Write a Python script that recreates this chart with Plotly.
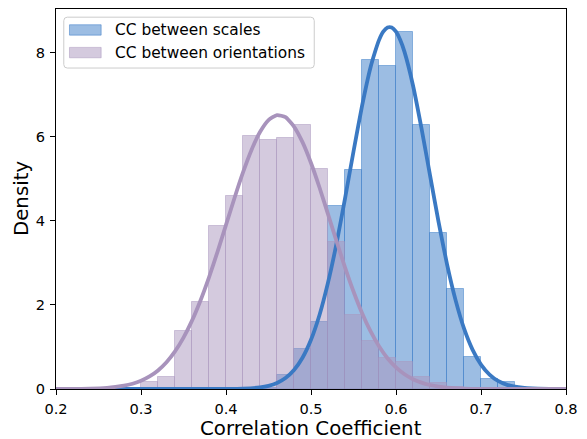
import plotly.graph_objects as go

# ---------------- data ----------------
bin_width = 0.02

scales_bin_left = [0.44, 0.46, 0.48, 0.50, 0.52, 0.54, 0.56, 0.58, 0.60, 0.62,
                   0.64, 0.66, 0.68, 0.70, 0.72, 0.74]
scales_density = [0.03, 0.34, 0.94, 1.59, 4.35, 5.20, 7.82, 7.68, 8.50, 6.27,
                  3.72, 2.39, 0.75, 0.24, 0.17, 0.03]

orient_bin_left = [0.30, 0.32, 0.34, 0.36, 0.38, 0.40, 0.42, 0.44, 0.46, 0.48,
                   0.50, 0.52, 0.54, 0.56, 0.58, 0.60, 0.62, 0.64, 0.66]
orient_density = [0.16, 0.29, 1.38, 2.08, 3.87, 4.58, 6.01, 5.92, 5.96, 6.27,
                  5.23, 3.50, 1.76, 1.15, 0.73, 0.65, 0.29, 0.15, 0.05]

scales_curve_x = [0.20, 0.40, 0.42, 0.44, 0.45, 0.46, 0.47, 0.48, 0.49, 0.50,
                  0.51, 0.52, 0.53, 0.54, 0.55, 0.56, 0.57, 0.575, 0.58, 0.585,
                  0.59, 0.595, 0.60, 0.605, 0.61, 0.62, 0.63, 0.64, 0.65, 0.66,
                  0.67, 0.68, 0.69, 0.70, 0.71, 0.72, 0.73, 0.74, 0.76, 0.78, 0.80]
scales_curve_y = [0.0, 0.0015, 0.008, 0.038, 0.075, 0.143, 0.260, 0.450, 0.742, 1.17,
                  1.76, 2.53, 3.46, 4.53, 5.65, 6.73, 7.65, 8.00, 8.30, 8.50,
                  8.60, 8.60, 8.50, 8.30, 8.02, 7.22, 6.20, 5.09, 3.98, 2.97,
                  2.12, 1.44, 0.937, 0.581, 0.344, 0.194, 0.105, 0.054, 0.012, 0.0024, 0.0004]

orient_curve_x = [0.20, 0.22, 0.24, 0.26, 0.27, 0.28, 0.29, 0.30, 0.31, 0.32,
                  0.33, 0.34, 0.35, 0.36, 0.37, 0.38, 0.39, 0.40, 0.41, 0.42,
                  0.43, 0.44, 0.45, 0.46, 0.47, 0.48, 0.49, 0.50, 0.51, 0.52,
                  0.53, 0.54, 0.55, 0.56, 0.57, 0.58, 0.59, 0.60, 0.61, 0.62,
                  0.63, 0.64, 0.65, 0.66, 0.68, 0.70, 0.72, 0.80]
orient_curve_y = [0.0007, 0.0026, 0.009, 0.028, 0.048, 0.078, 0.126, 0.196, 0.298, 0.442,
                  0.637, 0.894, 1.222, 1.626, 2.107, 2.657, 3.264, 3.903, 4.545, 5.152,
                  5.687, 6.112, 6.396, 6.517, 6.465, 6.244, 5.872, 5.377, 4.794, 4.161,
                  3.517, 2.894, 2.319, 1.809, 1.374, 1.016, 0.731, 0.513, 0.350, 0.233,
                  0.151, 0.095, 0.058, 0.035, 0.011, 0.003, 0.0009, 0.0]

legend_labels = ["CC between scales", "CC between orientations"]
x_ticks = [0.2, 0.3, 0.4, 0.5, 0.6, 0.7, 0.8]
y_ticks = [0, 2, 4, 6, 8]
x_title = "Correlation Coefficient"
y_title = "Density"

# ---------------- styling ----------------
BLUE = (58, 123, 200)
PURPLE = (169, 149, 189)
BLUE_LINE = "#3a79c3"
PURPLE_LINE = "#a893bc"


def rgba(c, a):
    return "rgba(%d,%d,%d,%s)" % (c[0], c[1], c[2], a)


W, H = 587, 439
ML, MR, MT, MB = 55.5, 21, 8.5, 49.5
PW, PH = W - ML - MR, H - MT - MB
FONT = "DejaVu Sans"


def px(xp):
    return (xp - ML) / PW


def py(yp):
    return (H - MB - yp) / PH


fig = go.Figure()

fig.add_trace(go.Bar(
    x=[b + bin_width / 2 for b in scales_bin_left], y=scales_density,
    width=bin_width, marker=dict(color=rgba(BLUE, 0.5),
                                 line=dict(color=rgba(BLUE, 0.5), width=1)),
    name=legend_labels[0], showlegend=False))
fig.add_trace(go.Bar(
    x=[b + bin_width / 2 for b in orient_bin_left], y=orient_density,
    width=bin_width, marker=dict(color=rgba(PURPLE, 0.5),
                                 line=dict(color=rgba(PURPLE, 0.5), width=1)),
    name=legend_labels[1], showlegend=False))
fig.add_trace(go.Scatter(
    x=scales_curve_x, y=scales_curve_y, mode="lines",
    line=dict(color=BLUE_LINE, width=3.8, shape="spline", smoothing=0.5),
    showlegend=False, cliponaxis=True))
fig.add_trace(go.Scatter(
    x=orient_curve_x, y=orient_curve_y, mode="lines",
    line=dict(color=PURPLE_LINE, width=3.8, shape="spline", smoothing=0.5),
    showlegend=False, cliponaxis=True))

# ---------------- manual legend (matplotlib style) ----------------
lx0, lx1, ly0, ly1, r = 63.3, 314.0, 16.7, 67.7, 3.5
path = ("M {a},{b} L {c},{b} Q {d},{b} {d},{e} L {d},{f} Q {d},{g} {c},{g} "
        "L {a},{g} Q {h},{g} {h},{f} L {h},{e} Q {h},{b} {a},{b} Z").format(
    a=px(lx0 + r), b=py(ly0), c=px(lx1 - r), d=px(lx1), e=py(ly0 + r),
    f=py(ly1 - r), g=py(ly1), h=px(lx0))
shapes = [dict(type="path", path=path, xref="paper", yref="paper",
               line=dict(color="#cccccc", width=1),
               fillcolor="rgba(255,255,255,0.8)", layer="above")]
annotations = []
entries = [(BLUE, 29.5), (PURPLE, 52.2)]
for (col, yc), label in zip(entries, legend_labels):
    shapes.append(dict(type="rect", xref="paper", yref="paper",
                       x0=px(69.0), x1=px(100.7), y0=py(yc - 5.2), y1=py(yc + 5.2),
                       fillcolor=rgba(col, 0.5), line=dict(color=rgba(col, 0.5), width=1),
                       layer="above"))
    annotations.append(dict(x=px(112.5), y=py(yc), xref="paper", yref="paper",
                            text=label, showarrow=False, xanchor="left",
                            yanchor="middle", font=dict(family=FONT, size=15.4,
                                                        color="black")))

# axis titles as annotations, placed like the reference
annotations.append(dict(x=px(311.0), y=py(429.5), xref="paper", yref="paper",
                        text=x_title, showarrow=False, xanchor="center",
                        yanchor="middle", font=dict(family=FONT, size=19.8, color="black")))
annotations.append(dict(x=px(20.5), y=py(199.0), xref="paper", yref="paper",
                        text=y_title, showarrow=False, xanchor="center", textangle=-90,
                        yanchor="middle", font=dict(family=FONT, size=19.8, color="black")))

axis_common = dict(showline=True, linecolor="black", linewidth=1.1, mirror=True,
                   ticks="outside", ticklen=5, tickwidth=1.1, tickcolor="black",
                   showgrid=False, zeroline=False, automargin=False,
                   tickfont=dict(family=FONT, size=14.6, color="black"))

fig.update_layout(
    width=W, height=H, margin=dict(l=ML, r=MR, t=MT, b=MB, pad=0, autoexpand=False),
    paper_bgcolor="white", plot_bgcolor="white", barmode="overlay",
    bargap=0, showlegend=False,
    xaxis=dict(range=[0.2, 0.8], tickvals=x_ticks,
               ticktext=["%.1f" % v for v in x_ticks], ticklabelstandoff=1,
               **axis_common),
    yaxis=dict(range=[0, 9.04], tickvals=y_ticks,
               ticktext=[str(v) for v in y_ticks], ticklabelstandoff=2,
               **axis_common),
    shapes=shapes, annotations=annotations,
)

fig.write_html("out.html")
